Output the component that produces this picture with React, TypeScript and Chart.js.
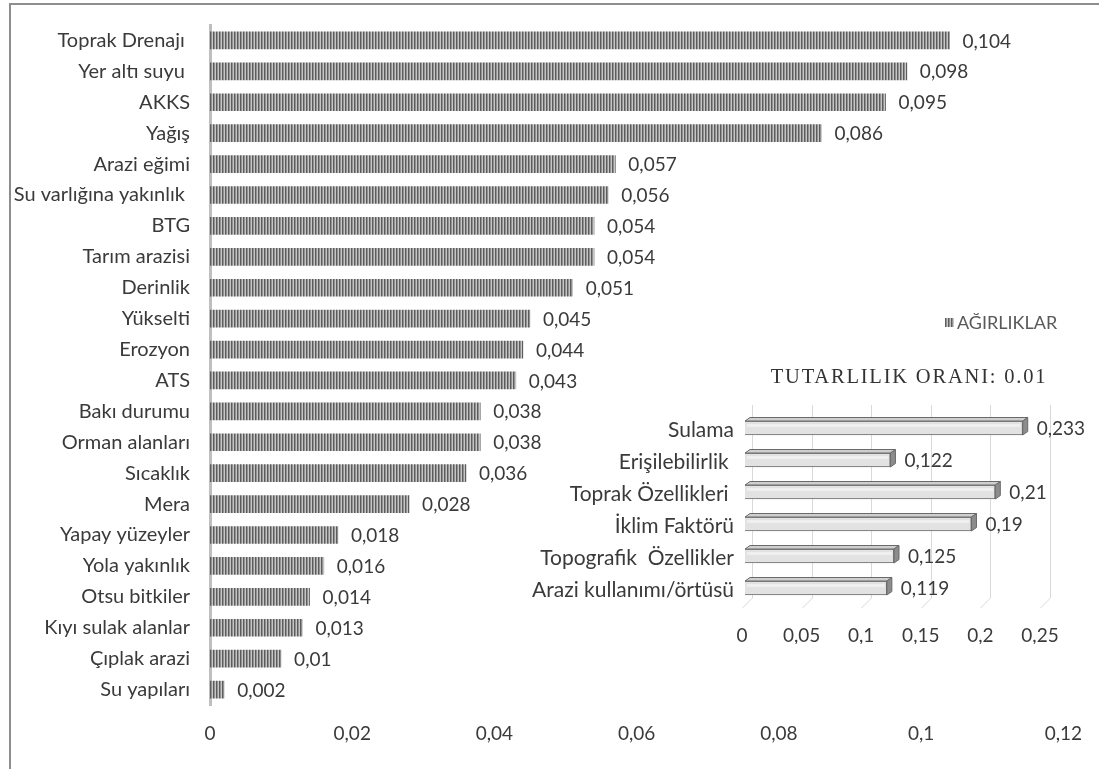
import React, { useEffect, useRef } from 'react';
import { Chart, registerables } from 'chart.js';

Chart.register(...registerables);

// ---------- data ----------
const categories = [
  'Toprak Drenajı ',
  'Yer altı suyu ',
  'AKKS',
  'Yağış',
  'Arazi eğimi',
  'Su varlığına yakınlık ',
  'BTG',
  'Tarım arazisi',
  'Derinlik',
  'Yükselti',
  'Erozyon',
  'ATS',
  'Bakı durumu',
  'Orman alanları',
  'Sıcaklık',
  'Mera',
  'Yapay yüzeyler',
  'Yola yakınlık',
  'Otsu bitkiler',
  'Kıyı sulak alanlar',
  'Çıplak arazi',
  'Su yapıları',
];
const weights = [
  0.104, 0.098, 0.095, 0.086, 0.057, 0.056, 0.054, 0.054, 0.051, 0.045, 0.044,
  0.043, 0.038, 0.038, 0.036, 0.028, 0.018, 0.016, 0.014, 0.013, 0.01, 0.002,
];
const xTickValues = [0, 0.02, 0.04, 0.06, 0.08, 0.1, 0.12];
const xTickLabels = ['0', '0,02', '0,04', '0,06', '0,08', '0,1', '0,12'];
const seriesName = 'AĞIRLIKLAR';

const groupCategories = [
  'Sulama',
  'Erişilebilirlik ',
  'Toprak Özellikleri ',
  'İklim Faktörü',
  'Topografik  Özellikler',
  'Arazi kullanımı/örtüsü',
];
const groupWeights = [0.233, 0.122, 0.21, 0.19, 0.125, 0.119];
const groupTickValues = [0, 0.05, 0.1, 0.15, 0.2, 0.25];
const groupTickLabels = ['0', '0,05', '0,1', '0,15', '0,2', '0,25'];
const insetTitle = 'TUTARLILIK ORANI: 0.01';

// ---------- styles ----------
const FONT = "Lato, 'Open Sans', sans-serif";
const TEXT = '#3a3a3a';
const W = 1099;
const H = 769;

const fmt = (v: number) => String(v).replace('.', ',');

function makeStripe(ctx: CanvasRenderingContext2D): CanvasPattern | string {
  const c = document.createElement('canvas');
  c.width = 3;
  c.height = 1;
  const g = c.getContext('2d');
  if (!g) return '#808080';
  g.fillStyle = '#5c5c5c';
  g.fillRect(0, 0, 1, 1);
  g.fillStyle = '#929292';
  g.fillRect(1, 0, 1, 1);
  g.fillStyle = '#c6c6c6';
  g.fillRect(2, 0, 1, 1);
  return ctx.createPattern(c, 'repeat') || '#808080';
}

const valueLabels = {
  id: 'valueLabels',
  afterDatasetsDraw(chart: any, _a: any, opts: any) {
    const ctx = chart.ctx;
    const meta = chart.getDatasetMeta(0);
    const data = chart.data.datasets[0].data as number[];
    ctx.save();
    ctx.font = `${opts.size || 19}px ${FONT}`;
    ctx.fillStyle = TEXT;
    ctx.textAlign = 'left';
    ctx.textBaseline = 'middle';
    meta.data.forEach((el: any, i: number) => {
      ctx.fillText(fmt(data[i]), el.x + (opts.gap || 12), el.y + (opts.dy || 0));
    });
    ctx.restore();
  },
};

const legendBox = {
  id: 'legendBox',
  afterDraw(chart: any, _a: any, opts: any) {
    const ctx = chart.ctx;
    ctx.save();
    ctx.fillStyle = opts.pattern;
    ctx.fillRect(opts.x, opts.y - 4, 9, 9);
    ctx.font = `18px ${FONT}`;
    ctx.fillStyle = '#595959';
    ctx.textAlign = 'left';
    ctx.textBaseline = 'middle';
    ctx.fillText(opts.text, opts.x + 12, opts.y + 1);
    ctx.restore();
  },
};

const insetGrid = {
  id: 'insetGrid',
  beforeDatasetsDraw(chart: any) {
    const ctx = chart.ctx;
    const xs = chart.scales.x;
    const { top, bottom } = chart.chartArea;
    ctx.save();
    ctx.strokeStyle = '#d9d9d9';
    ctx.lineWidth = 1;
    xs.ticks.forEach((t: any) => {
      const px = Math.round(xs.getPixelForValue(t.value)) + 0.5;
      ctx.beginPath();
      ctx.moveTo(px + 7, top - 7);
      ctx.lineTo(px + 7, bottom - 6);
      ctx.lineTo(px - 3, bottom + 4);
      ctx.stroke();
    });
    ctx.restore();
  },
};

const bar3d = {
  id: 'bar3d',
  afterDatasetsDraw(chart: any) {
    const ctx = chart.ctx;
    const meta = chart.getDatasetMeta(0);
    const dx = 5;
    const dy = -3.5;
    ctx.save();
    ctx.strokeStyle = '#6a6a6a';
    ctx.lineWidth = 1;
    ctx.lineJoin = 'round';
    meta.data.forEach((el: any) => {
      const { x, y, base, height } = el.getProps(['x', 'y', 'base', 'height'], true);
      const t = y - height / 2;
      const b = y + height / 2;
      // top face
      ctx.beginPath();
      ctx.moveTo(base, t);
      ctx.lineTo(base + dx, t + dy);
      ctx.lineTo(x + dx, t + dy);
      ctx.lineTo(x, t);
      ctx.closePath();
      ctx.fillStyle = '#cfcfcf';
      ctx.fill();
      ctx.stroke();
      // side face
      ctx.beginPath();
      ctx.moveTo(x, t);
      ctx.lineTo(x + dx, t + dy);
      ctx.lineTo(x + dx, b + dy);
      ctx.lineTo(x, b);
      ctx.closePath();
      ctx.fillStyle = '#8c8c8c';
      ctx.fill();
      ctx.stroke();
      // highlight on front face
      ctx.fillStyle = 'rgba(255,255,255,0.45)';
      ctx.fillRect(base + 2, t + 3, x - base - 4, 3);
    });
    ctx.restore();
  },
};

const insetTitlePlugin = {
  id: 'insetTitle',
  afterDraw(chart: any, _a: any, opts: any) {
    const ctx = chart.ctx as any;
    ctx.save();
    ctx.font = `20.5px 'Liberation Serif', 'DejaVu Serif', serif`;
    ctx.fillStyle = '#333333';
    ctx.textAlign = 'center';
    ctx.textBaseline = 'middle';
    ctx.letterSpacing = '1.8px';
    ctx.fillText(opts.text, opts.x, opts.y);
    ctx.restore();
  },
};

const zeroPad = (s: any) => {
  s.paddingTop = 0;
  s.paddingBottom = 0;
};

export default function App() {
  const mainRef = useRef<HTMLCanvasElement>(null);
  const insetRef = useRef<HTMLCanvasElement>(null);

  useEffect(() => {
    if (!mainRef.current || !insetRef.current) return;
    const mctx = mainRef.current.getContext('2d') as CanvasRenderingContext2D;
    const stripe = makeStripe(mctx);

    const main = new Chart(mainRef.current, {
      type: 'bar',
      data: {
        labels: categories,
        datasets: [
          {
            label: seriesName,
            data: weights,
            backgroundColor: stripe as any,
            borderWidth: 0,
            barThickness: 17,
          },
        ],
      },
      options: {
        indexAxis: 'y',
        responsive: false,
        maintainAspectRatio: false,
        animation: false,
        layout: { padding: { left: 0, right: 31, top: 25, bottom: 0 } },
        plugins: {
          legend: { display: false },
          tooltip: { enabled: false },
          valueLabels: { gap: 13, dy: 1 },
          legendBox: { x: 945, y: 322, text: seriesName, pattern: stripe },
        } as any,
        scales: {
          x: {
            type: 'linear',
            min: 0,
            max: 0.12,
            afterBuildTicks: (s: any) => {
              s.ticks = xTickValues.map((v) => ({ value: v }));
            },
            afterFit: (s: any) => {
              s.height = 64;
            },
            grid: { display: false, drawTicks: false },
            border: { display: false },
            ticks: {
              padding: 17,
              color: TEXT,
              font: { family: FONT, size: 19 },
              maxRotation: 0,
              callback: (_v: any, i: number) => xTickLabels[i],
            },
          },
          y: {
            type: 'category',
            afterFit: (s: any) => {
              s.width = 210;
              zeroPad(s);
            },
            grid: { display: false, drawTicks: false },
            border: { display: true, color: '#bfbfbf', width: 3 },
            ticks: {
              padding: 20,
              color: TEXT,
              autoSkip: false,
              font: { family: FONT, size: 20 },
            },
          },
        },
      },
      plugins: [valueLabels, legendBox],
    });

    const inset = new Chart(insetRef.current, {
      type: 'bar',
      data: {
        labels: groupCategories,
        datasets: [
          {
            label: 'Grup',
            data: groupWeights,
            backgroundColor: '#e2e2e2',
            borderColor: '#6a6a6a',
            borderWidth: 1.2,
            barThickness: 14,
          },
        ],
      },
      options: {
        indexAxis: 'y',
        responsive: false,
        maintainAspectRatio: false,
        animation: false,
        layout: { padding: { left: 0, right: 56, top: 412, bottom: 125 } },
        plugins: {
          legend: { display: false },
          tooltip: { enabled: false },
          valueLabels: { gap: 14, dy: 1 },
          insetTitle: { text: insetTitle, x: 909, y: 378 },
        } as any,
        scales: {
          x: {
            type: 'linear',
            min: 0,
            max: 0.25,
            afterBuildTicks: (s: any) => {
              s.ticks = groupTickValues.map((v) => ({ value: v }));
            },
            afterFit: (s: any) => {
              s.height = 40;
            },
            grid: { display: false, drawTicks: false },
            border: { display: false },
            ticks: {
              padding: 20,
              labelOffset: -3,
              color: TEXT,
              maxRotation: 0,
              font: { family: FONT, size: 19 },
              callback: (_v: any, i: number) => groupTickLabels[i],
            },
          },
          y: {
            type: 'category',
            afterFit: (s: any) => {
              s.width = 745;
              zeroPad(s);
            },
            grid: { display: false, drawTicks: false },
            border: { display: false },
            ticks: {
              padding: 11,
              labelOffset: 2,
              color: TEXT,
              autoSkip: false,
              font: { family: FONT, size: 21 },
            },
          },
        },
      },
      plugins: [insetGrid, bar3d, valueLabels, insetTitlePlugin],
    });

    return () => {
      main.destroy();
      inset.destroy();
    };
  }, []);

  return (
    <div
      style={{
        position: 'absolute',
        left: 0,
        top: 0,
        width: W,
        height: H,
        overflow: 'hidden',
        background: '#ffffff',
      }}
    >
      <div
        style={{
          position: 'absolute',
          left: 9,
          top: 3,
          width: 1300,
          height: 1000,
          border: '2px solid #8e8e8e',
        }}
      />
      <canvas
        ref={mainRef}
        width={W}
        height={H}
        style={{ position: 'absolute', left: 0, top: 0, width: W, height: H }}
      />
      <canvas
        ref={insetRef}
        width={W}
        height={H}
        style={{ position: 'absolute', left: 0, top: 0, width: W, height: H }}
      />
    </div>
  );
}
